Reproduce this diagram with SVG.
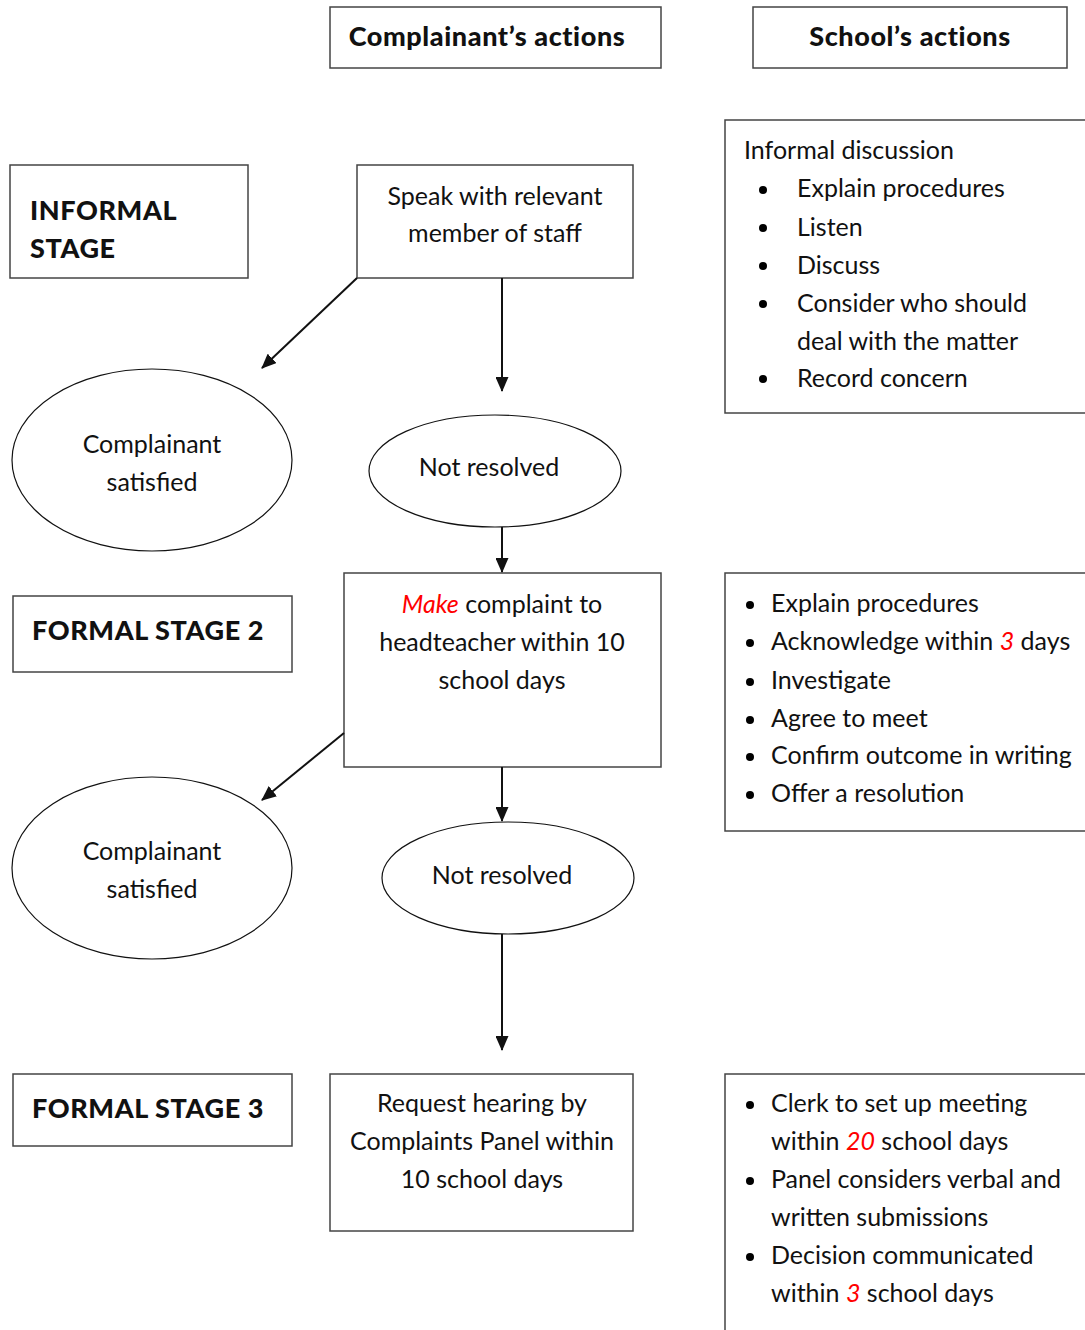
<svg xmlns="http://www.w3.org/2000/svg" width="1085" height="1330" viewBox="0 0 1085 1330">
<style>
text{font-family:Lato,"Open Sans","Liberation Sans",sans-serif;fill:#111;font-size:25px}
.b{font-weight:900;font-size:27px;letter-spacing:0.6px}
.c{text-anchor:middle}
.r{fill:#ff0000;font-style:italic}
.box{fill:#fff;stroke:#444;stroke-width:1.5}
.ell{fill:#fff;stroke:#111;stroke-width:1.2}
.con{stroke:#111;stroke-width:2;fill:none;marker-end:url(#ah)}
</style>
<defs>
<marker id="ah" markerWidth="15" markerHeight="13" refX="14" refY="6.5" orient="auto" markerUnits="userSpaceOnUse">
<path d="M0,0 L15,6.5 L0,13 Z" fill="#111"/>
</marker>
</defs>
<rect width="1085" height="1330" fill="#fff"/>

<g id="hdr-complainant"><rect class="box" x="330" y="7" width="331" height="61"/><text class="b c" x="487" y="46">Complainant’s actions</text></g>
<g id="hdr-school"><rect class="box" x="753" y="7" width="314" height="61"/><text class="b c" x="910" y="46">School’s actions</text></g>

<g id="informal-stage"><rect class="box" x="10" y="165" width="238" height="113"/><text class="b" x="30" y="220">INFORMAL</text><text class="b" x="30" y="258">STAGE</text></g>
<g id="speak"><rect class="box" x="357" y="165" width="276" height="113"/><text class="c" x="495" y="205">Speak with relevant</text><text class="c" x="495" y="242">member of staff</text></g>
<g id="school-informal"><rect class="box" x="725" y="120" width="365" height="293"/>
<text x="744" y="159">Informal discussion</text>
<g><circle cx="763" cy="190" r="4"/><circle cx="763" cy="228" r="4"/><circle cx="763" cy="266" r="4"/><circle cx="763" cy="304" r="4"/><circle cx="763" cy="379" r="4"/></g>
<text x="797" y="197">Explain procedures</text>
<text x="797" y="236">Listen</text>
<text x="797" y="274">Discuss</text>
<text x="797" y="312">Consider who should</text>
<text x="797" y="350">deal with the matter</text>
<text x="797" y="387">Record concern</text>
</g>

<g id="satisfied-1"><ellipse class="ell" cx="152" cy="460" rx="140" ry="91"/><text class="c" x="152" y="453">Complainant</text><text class="c" x="152" y="491">satisfied</text></g>
<g id="notresolved-1"><ellipse class="ell" cx="495" cy="471" rx="126" ry="56"/><text class="c" x="489" y="476">Not resolved</text></g>

<g id="formal-stage-2"><rect class="box" x="13" y="596" width="279" height="76"/><text class="b" x="32" y="640">FORMAL STAGE 2</text></g>
<g id="make-complaint"><rect class="box" x="344" y="573" width="317" height="194"/>
<text class="c" x="502" y="613"><tspan class="r">Make</tspan> complaint to</text>
<text class="c" x="502" y="651">headteacher within 10</text>
<text class="c" x="502" y="689">school days</text></g>
<g id="school-stage2"><rect class="box" x="725" y="573" width="365" height="258"/>
<g><circle cx="750" cy="605" r="4"/><circle cx="750" cy="643" r="4"/><circle cx="750" cy="682" r="4"/><circle cx="750" cy="720" r="4"/><circle cx="750" cy="757" r="4"/><circle cx="750" cy="795" r="4"/></g>
<text x="771" y="612">Explain procedures</text>
<text x="771" y="650">Acknowledge within <tspan class="r">3</tspan> days</text>
<text x="771" y="689">Investigate</text>
<text x="771" y="727">Agree to meet</text>
<text x="771" y="764">Confirm outcome in writing</text>
<text x="771" y="802">Offer a resolution</text>
</g>

<g id="satisfied-2"><ellipse class="ell" cx="152" cy="868" rx="140" ry="91"/><text class="c" x="152" y="860">Complainant</text><text class="c" x="152" y="898">satisfied</text></g>
<g id="notresolved-2"><ellipse class="ell" cx="508" cy="878" rx="126" ry="56"/><text class="c" x="502" y="884">Not resolved</text></g>

<g id="formal-stage-3"><rect class="box" x="13" y="1074" width="279" height="72"/><text class="b" x="32" y="1118">FORMAL STAGE 3</text></g>
<g id="request-hearing"><rect class="box" x="330" y="1074" width="303" height="157"/>
<text class="c" x="482" y="1112">Request hearing by</text>
<text class="c" x="482" y="1150">Complaints Panel within</text>
<text class="c" x="482" y="1188">10 school days</text></g>
<g id="school-stage3"><rect class="box" x="725" y="1074" width="365" height="270"/>
<g><circle cx="750" cy="1105" r="4"/><circle cx="750" cy="1181" r="4"/><circle cx="750" cy="1257" r="4"/></g>
<text x="771" y="1112">Clerk to set up meeting</text>
<text x="771" y="1150">within <tspan class="r">20</tspan> school days</text>
<text x="771" y="1188">Panel considers verbal and</text>
<text x="771" y="1226">written submissions</text>
<text x="771" y="1264">Decision communicated</text>
<text x="771" y="1302">within <tspan class="r">3</tspan> school days</text>
</g>

<g id="connectors">
<line class="con" x1="357" y1="278" x2="262" y2="368"/>
<line class="con" x1="502" y1="278" x2="502" y2="391"/>
<line class="con" x1="502" y1="527" x2="502" y2="572"/>
<line class="con" x1="344" y1="733" x2="262" y2="800"/>
<line class="con" x1="502" y1="767" x2="502" y2="821"/>
<line class="con" x1="502" y1="934" x2="502" y2="1050"/>
</g>
</svg>
